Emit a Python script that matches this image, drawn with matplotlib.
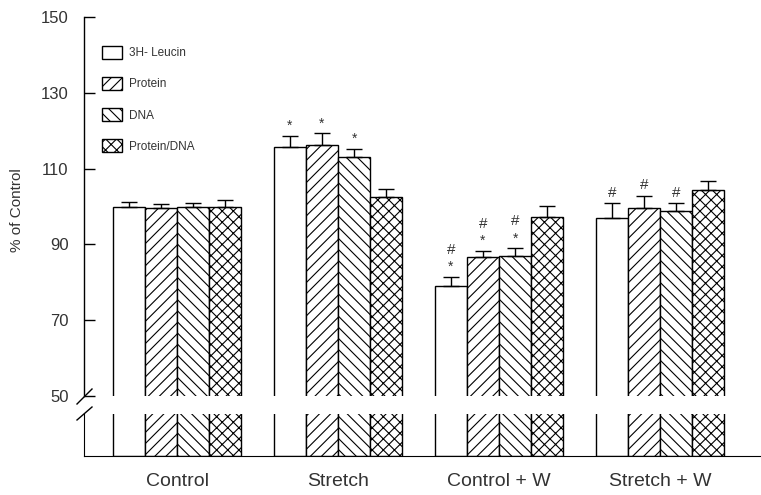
import matplotlib
matplotlib.use("Agg")
import matplotlib.pyplot as plt
import numpy as np
from matplotlib.lines import Line2D

plt.rcParams["font.family"] = ["Liberation Sans", "DejaVu Sans"]
plt.rcParams["hatch.linewidth"] = 0.8
plt.rcParams["hatch.color"] = "black"

# data (% of control), mean and SEM
groups = ["Control", "Stretch", "Control + W", "Stretch + W"]
series = ["3H- Leucin", "Protein", "DNA", "Protein/DNA"]
leucin = [100.0, 115.8, 79.1, 97.0]
leucin_err = [1.2, 2.9, 2.4, 3.8]
protein = [99.7, 116.1, 86.8, 99.6]
protein_err = [0.9, 3.2, 1.5, 3.3]
dna = [99.8, 113.1, 87.0, 98.9]
dna_err = [1.1, 2.2, 2.0, 1.9]
ratio = [99.8, 102.4, 97.3, 104.4]
ratio_err = [1.9, 2.3, 2.9, 2.4]
# significance marks: '*' vs control, '#' vs same group without W
leucin_sig = ["", "*", "#*", "#"]
protein_sig = ["", "*", "#*", "#"]
dna_sig = ["", "*", "#*", "#"]
ratio_sig = ["", "", "", ""]

values = [leucin, protein, dna, ratio]
errors = [leucin_err, protein_err, dna_err, ratio_err]
sigs = [leucin_sig, protein_sig, dna_sig, ratio_sig]
hatches = ["", "///", "\\\\\\", "xxx"]

W, H = 761, 495
fig = plt.figure(figsize=(W / 100, H / 100), dpi=100)

def fx(px):
    return px / W

def fy(py):
    return 1 - py / H

ax = fig.add_axes([fx(84), fy(396), fx(761) - fx(84), fy(17) - fy(396)])
ax_lo = fig.add_axes([fx(84), fy(456), fx(761) - fx(84), fy(414) - fy(456)])

x = np.arange(len(groups))
width = 0.2
offsets = [-0.3, -0.1, 0.1, 0.3]
txt = "#333333"

for i in range(4):
    xs = x + offsets[i]
    for a in (ax, ax_lo):
        a.bar(xs, values[i], width, color="white", edgecolor="black",
              linewidth=1.0, hatch=hatches[i], label=series[i])
    ax.errorbar(xs, values[i], yerr=[np.zeros(4), errors[i]], fmt="none",
                ecolor="black", elinewidth=1.0, capsize=6, capthick=1.0)
    for j in range(4):
        top = values[i][j] + errors[i][j]
        s = sigs[i][j]
        if "*" in s:
            ax.annotate("*", (xs[j], top), xytext=(0, 7), textcoords="offset points",
                        ha="center", va="center", fontsize=10, color=txt)
        if "#" in s:
            dy = 19.5 if "*" in s else 7.5
            ax.annotate("#", (xs[j], top), xytext=(0, dy), textcoords="offset points",
                        ha="center", va="center", fontsize=11, color=txt)

xlim = (-0.578, 3.627)
ax.set_xlim(*xlim)
ax_lo.set_xlim(*xlim)
ax.set_ylim(50, 150)
ax_lo.set_ylim(0, 10)

ax.set_yticks([50, 70, 90, 110, 130, 150])
ax.tick_params(axis="y", direction="in", length=8, width=1.0, pad=11,
               labelsize=12, labelcolor=txt)
ax.set_xticks([])
for s in ("top", "right", "bottom"):
    ax.spines[s].set_visible(False)
ax.spines["left"].set_linewidth(1.0)

ax_lo.set_yticks([])
ax_lo.set_xticks(x)
ax_lo.set_xticklabels(groups, fontsize=14, color=txt)
ax_lo.tick_params(axis="x", length=0, pad=12)
for s in ("top", "right"):
    ax_lo.spines[s].set_visible(False)

ax.set_ylabel("% of Control", fontsize=11, color=txt)
ax.yaxis.set_label_coords(fx(17) - fx(84), (fy(210) - fy(396)) / (fy(17) - fy(396)))

# break marks on the y axis
for y0, y1 in [(404, 389), (420, 407)]:
    fig.add_artist(Line2D([fx(77), fx(92)], [fy(y0), fy(y1)], color="black", lw=1.0))

handles, labels = ax.get_legend_handles_labels()
ax.legend(handles, labels, loc="upper left", bbox_to_anchor=(fx(102), fy(46)),
          bbox_transform=fig.transFigure, frameon=False, fontsize=8.5,
          handlelength=1.7, handleheight=1.3, labelspacing=1.5,
          handletextpad=0.6, borderpad=0, borderaxespad=0, labelcolor=txt)

fig.savefig("out.png", dpi=100)
